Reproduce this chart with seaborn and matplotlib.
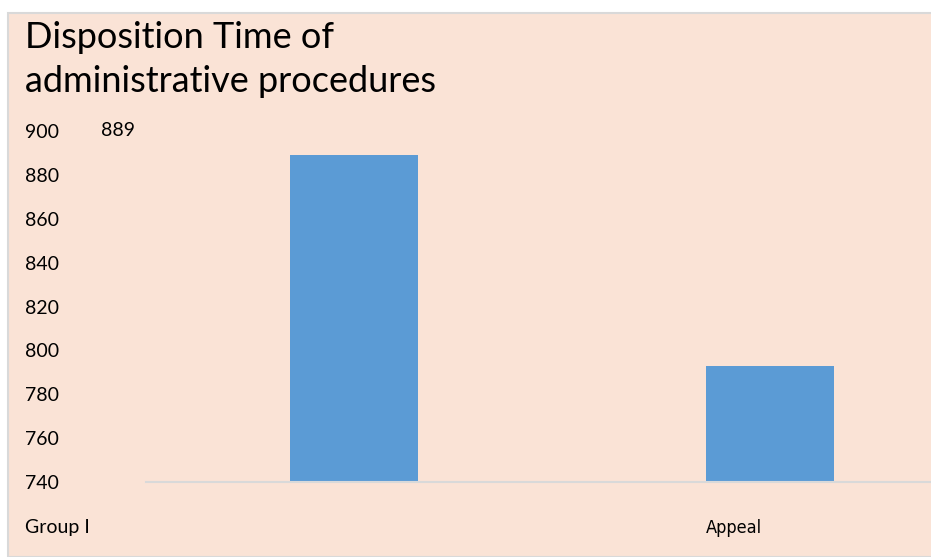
import numpy as np
import pandas as pd
import matplotlib
matplotlib.use("Agg")
import matplotlib.pyplot as plt
import matplotlib.transforms as mtransforms
from matplotlib.patches import Rectangle
import seaborn as sns

# ── data ──────────────────────────────────────────────────────────────────────
categories = ["Group I", "Appeal"]
values = [889, 793]
y_ticks = [740, 760, 780, 800, 820, 840, 860, 880, 900]
title = "Disposition Time of\nadministrative procedures"

BG = "#FAE3D6"
BAR = "#5B9BD5"
W, H = 931, 557

sns.set_style("white")
plt.rcParams["font.family"] = ["Lato", "DejaVu Sans"]
plt.rcParams["text.color"] = "black"
plt.rcParams["ytick.color"] = "black"

fig = plt.figure(figsize=(W / 100, H / 100), dpi=100)
fig.patch.set_facecolor("white")
# chart area frame
fig.patches.append(Rectangle((8 / W, 0), 1, (H - 13) / H, transform=fig.transFigure,
                             facecolor=BG, edgecolor="#D9D9D9", linewidth=1.5, zorder=-1))

# axes spans past the right edge like the original
left, right = 146 / W, 978 / W
bottom, top = (H - 482) / H, (H - 131) / H
ax = fig.add_axes([left, bottom, right - left, top - bottom])
ax.set_zorder(2)
ax.set_facecolor("none")

df = pd.DataFrame({"cat": categories, "val": values})
sns.barplot(data=df, x="cat", y="val", color=BAR, width=0.31, saturation=1,
            linewidth=0, ax=ax)

ax.set_ylim(y_ticks[0], y_ticks[-1])
ax.set_xlim(-0.5, len(categories) - 0.5)
ax.set_yticks(y_ticks)
ax.set_yticklabels([str(t) for t in y_ticks])
ax.tick_params(axis="y", length=0, pad=121 * 72 / 100, labelsize=14, labelcolor="black")
for lbl in ax.get_yticklabels():
    lbl.set_horizontalalignment("left")
ax.set_xticks([])
ax.set_xlabel("")
ax.set_ylabel("")
for s in ["top", "right", "left"]:
    ax.spines[s].set_visible(False)
ax.spines["bottom"].set_color("#D9D9D9")
ax.spines["bottom"].set_linewidth(1.5)

# data label, sits next to the top tick
tr = mtransforms.blended_transform_factory(fig.transFigure, ax.transData)
ax.text(101 / W, y_ticks[-1], str(values[0]), transform=tr, fontsize=14,
        ha="left", va="center", clip_on=False)

# category labels under the axis
fig.text(25 / W, (H - 528) / H, categories[0], fontsize=14, ha="left", va="center")
tr3 = mtransforms.blended_transform_factory(ax.transData, fig.transFigure)
fig.text(1 - 0.31 / 2, (H - 528) / H, categories[1], transform=tr3, fontsize=13,
         ha="left", va="center", family=["Liberation Sans Narrow", "DejaVu Sans"],
         fontstretch="condensed")

fig.text(25 / W, (H - 21) / H, title, fontsize=26, ha="left", va="top",
         linespacing=1.4)

fig.savefig("out.png", dpi=100, facecolor=fig.get_facecolor())
